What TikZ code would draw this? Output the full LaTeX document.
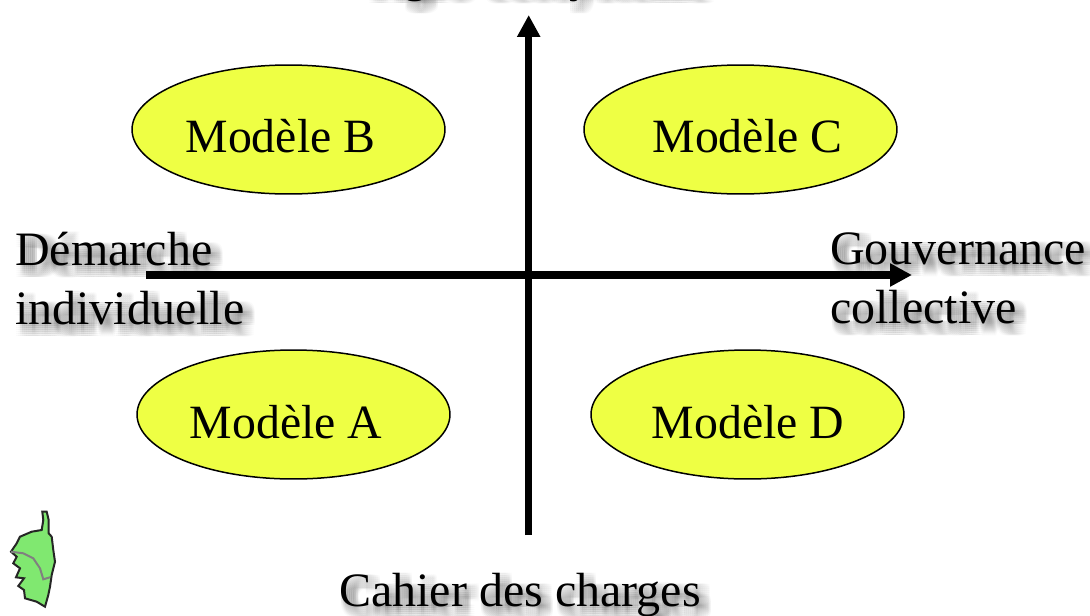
\documentclass[tikz,border=0pt]{standalone}
\usepackage{fontspec}
\setmainfont{Liberation Serif}
\usetikzlibrary{arrows.meta,shapes.geometric}
\definecolor{modelefill}{HTML}{EEFF44}
\definecolor{corsefill}{HTML}{80E870}
% text with a soft shadow: name, x, y, text
\newcommand{\ombre}[4]{%
  \foreach \dx in {0,2,...,12} \foreach \dy in {0,2,...,12}
    \node[txt, text=black, text opacity=0.02] (#1s\dx\dy) at (#2+\dx,#3+\dy) {#4};
  \node[txt] (#1) at (#2,#3) {#4};
}
% text of an ellipse: shift, text
\newcommand{\modeletxt}[2]{\makebox[0pt]{\hspace*{#1}\raisebox{-.47cm}[0pt][0pt]{#2}}}
\begin{document}
\begin{tikzpicture}[x=0.02cm, y=-0.02cm]
        \tikzstyle{txt}=[anchor=north west, inner sep=0pt, align=left, font=\fontsize{27.3}{33.6}\selectfont]
        \tikzstyle{modele}=[ellipse, draw=black, line width=0.03cm, fill=modelefill, minimum width=6.26cm, minimum height=2.58cm, inner sep=0pt, font=\fontsize{27.2}{33.6}\selectfont]
        \tikzstyle{axe}=[-{Triangle[length=0.44cm, width=0.44cm]}, line width=0.15cm]
        \useasboundingbox (0,0) rectangle (1090,616);

        % Axes
        \coordinate (sud) at (528.7,535);
        \coordinate (nord) at (528.7,15);
        \coordinate (ouest) at (146,275);
        \coordinate (est) at (912,275);
        \draw[axe] (sud) -- (nord);
        \draw[axe] (ouest) -- (est);

        % Ellipses
        \node[modele] (b) at (288.5,129.5) {\modeletxt{-0.32cm}{Modèle B}};
        \node[modele] (c) at (740.5,129.5) {\modeletxt{0.28cm}{Modèle C}};
        \node[modele] (a) at (293.5,414.5) {\modeletxt{-0.30cm}{Modèle A}};
        \node[modele] (d) at (747.5,414.5) {\modeletxt{0.02cm}{Modèle D}};

        % Axis labels
        \ombre{haut}{369}{-42}{Agro-écosystème}
        \ombre{bas}{339}{573}{Cahier des charges}
        \ombre{gauche}{15}{232}{Démarche\\individuelle}
        \ombre{droite}{830}{232}{Gouvernance\\collective}

        % Corsica
        \draw[black!85, line width=0.04cm, fill=corsefill]
            (42.3,511.7) -- (46.7,511.7) -- (48.7,520) -- (48.7,533.3) -- (51.7,536.7)
            -- (53.3,550) -- (55,561.7) -- (51.7,575) -- (50,586.7) -- (48.3,595)
            -- (45,606.7) -- (36.7,601.7) -- (25,598.3) -- (24,590) -- (18.3,586)
            -- (24,578.3) -- (16,577.3) -- (20,568.3) -- (13.3,563.3) -- (16.7,556.7)
            -- (11,551.7) -- (16.7,543.3) -- (20,536.7) -- (31.7,531.7) -- (41.7,530)
            -- (43.3,520) -- cycle;
        \draw[black!50, line width=0.04cm]
            (11,551.7) -- (23.3,553.3) -- (33.3,558.3) -- (40,568.3) -- (43.3,579.3) -- (50,577.3);
\end{tikzpicture}
\end{document}
